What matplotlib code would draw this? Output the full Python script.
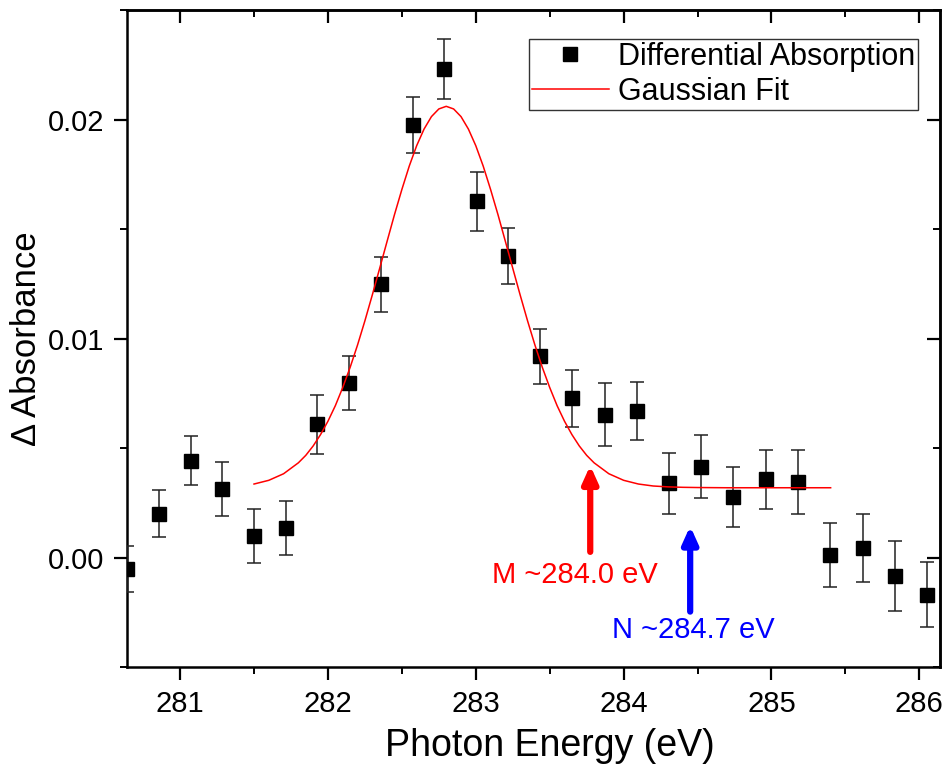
import numpy as np
import matplotlib.pyplot as plt
from matplotlib.ticker import MultipleLocator, AutoMinorLocator
from matplotlib.lines import Line2D

plt.rcParams['font.family'] = ['Liberation Sans', 'DejaVu Sans']

energy = [280.643, 280.858, 281.072, 281.286, 281.500, 281.715, 281.929, 282.145,
          282.360, 282.574, 282.788, 283.005, 283.221, 283.436, 283.654, 283.874,
          284.087, 284.310, 284.525, 284.743, 284.962, 285.180, 285.397, 285.616,
          285.837, 286.055]
dabs = [-0.00053, 0.00201, 0.00442, 0.00314, 0.00099, 0.00135, 0.00609, 0.00797,
        0.01249, 0.01978, 0.02234, 0.01629, 0.01378, 0.00919, 0.00728, 0.00653,
        0.00668, 0.00340, 0.00416, 0.00277, 0.00357, 0.00345, 0.00012, 0.00044,
        -0.00083, -0.00169]
err = [0.00106, 0.00109, 0.00112, 0.00123, 0.00125, 0.00122, 0.00136, 0.00123,
       0.00125, 0.00128, 0.00137, 0.00135, 0.00129, 0.00127, 0.00130, 0.00143,
       0.00133, 0.00140, 0.00144, 0.00139, 0.00136, 0.00145, 0.00146, 0.00156,
       0.00160, 0.00147]

# gaussian fit curve, sampled from the figure
fit_x = [281.5, 281.6, 281.7, 281.8, 281.85, 281.9, 281.95, 282.0, 282.05, 282.1,
         282.15, 282.2, 282.25, 282.3, 282.35, 282.4, 282.45, 282.5, 282.55, 282.6,
         282.65, 282.7, 282.75, 282.8, 282.85, 282.9, 282.95, 283.0, 283.05, 283.1,
         283.15, 283.2, 283.25, 283.3, 283.35, 283.4, 283.45, 283.5, 283.55, 283.6,
         283.65, 283.7, 283.75, 283.8, 283.9, 284.0, 284.1, 284.2, 284.3, 284.4,
         284.5, 284.7, 284.9, 285.1, 285.4]
fit_y = [0.00336, 0.00353, 0.00383, 0.00433, 0.00467, 0.00510, 0.00562, 0.00623,
         0.00694, 0.00777, 0.00869, 0.00971, 0.01082, 0.01200, 0.01322, 0.01445,
         0.01567, 0.01682, 0.01789, 0.01882, 0.01958, 0.02015, 0.02050, 0.02062,
         0.02050, 0.02015, 0.01958, 0.01882, 0.01789, 0.01682, 0.01567, 0.01445,
         0.01322, 0.01200, 0.01082, 0.00971, 0.00869, 0.00777, 0.00694, 0.00623,
         0.00562, 0.00510, 0.00467, 0.00433, 0.00383, 0.00353, 0.00336, 0.00327,
         0.00323, 0.00321, 0.00320, 0.00319, 0.00319, 0.00319, 0.00319]

# arrows: (x, tail y, tip y)
arrow_M = (283.774, 0.00026, 0.00421)
arrow_N = (284.45, -0.00247, 0.00144)

fig = plt.figure(figsize=(9.48, 7.70), dpi=100)
ax = fig.add_axes([0.1343, 0.1338, 0.9916 - 0.1343, 0.9864 - 0.1338])

ax.errorbar(energy, dabs, yerr=err, fmt='s', color='black', ms=9.5,
            ecolor='#222222', elinewidth=1.1, capsize=5, capthick=1.1, zorder=3)
ax.plot(fit_x, fit_y, color='red', lw=1.1, zorder=4)

for (xa, y0, y1), c in [(arrow_M, 'red'), (arrow_N, 'blue')]:
    ax.annotate('', xy=(xa, y1), xytext=(xa, y0),
                arrowprops=dict(arrowstyle='-|>,head_width=0.45,head_length=1.0',
                                color=c, lw=4.5, shrinkA=0, shrinkB=0))
ax.text(283.673, -0.00081, 'M ~284.0 eV', color='red', fontsize=21,
        ha='center', va='center')
ax.text(284.47, -0.00333, 'N ~284.7 eV', color='blue', fontsize=21,
        ha='center', va='center')

ax.set_xlim(280.643, 286.14)
ax.set_ylim(-0.005, 0.025)
ax.xaxis.set_major_locator(MultipleLocator(1))
ax.xaxis.set_minor_locator(AutoMinorLocator(2))
ax.yaxis.set_major_locator(MultipleLocator(0.01))
ax.yaxis.set_minor_locator(AutoMinorLocator(2))
ax.yaxis.set_major_formatter(plt.FormatStrFormatter('%.2f'))

for s in ax.spines.values():
    s.set_linewidth(1.8)
ax.tick_params(which='major', direction='out', length=9.5, width=1.6,
               labelsize=21, pad=7)
ax.tick_params(which='minor', direction='out', length=5, width=1.4)

# inward ticks on top and right
top = ax.secondary_xaxis('top')
top.xaxis.set_major_locator(MultipleLocator(1))
top.xaxis.set_minor_locator(AutoMinorLocator(2))
top.tick_params(which='major', direction='in', length=9.5, width=1.6, labeltop=False)
top.tick_params(which='minor', direction='in', length=5, width=1.4)
right = ax.secondary_yaxis('right')
right.yaxis.set_major_locator(MultipleLocator(0.01))
right.yaxis.set_minor_locator(AutoMinorLocator(2))
right.tick_params(which='major', direction='in', length=9.5, width=1.6, labelright=False)
right.tick_params(which='minor', direction='in', length=5, width=1.4)
for sec in (top, right):
    for s in sec.spines.values():
        s.set_linewidth(1.8)

ax.set_xlabel('Photon Energy (eV)', fontsize=27)
ax.xaxis.set_label_coords(0.52, -0.093)
ax.set_ylabel('\u0394 Absorbance', fontsize=25)
ax.yaxis.set_label_coords(-0.104, 0.5)

handles = [Line2D([], [], marker='s', ls='none', color='black', ms=9.5),
           Line2D([], [], color='red', lw=1.1)]
leg = ax.legend(handles, ['Differential Absorption', 'Gaussian Fit'],
                loc='upper right', bbox_to_anchor=(0.9729, 0.9566), fontsize=22,
                frameon=True, fancybox=False, borderaxespad=0, borderpad=0.1,
                handlelength=2.5, handletextpad=0.3, labelspacing=0.15,
                edgecolor='black')
leg.get_frame().set_linewidth(1.0)

fig.savefig('out.png', dpi=100)
